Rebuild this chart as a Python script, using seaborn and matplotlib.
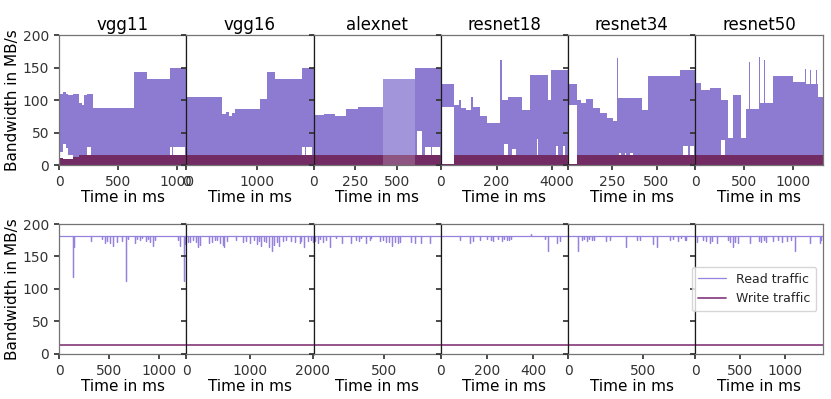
import matplotlib
matplotlib.use('Agg')
import pandas as pd
import seaborn as sns
import matplotlib.pyplot as plt

models = ['vgg11', 'vgg16', 'alexnet', 'resnet18', 'resnet34', 'resnet50']

# ---- top row: read traffic envelope (segment start in ms, upper, lower) and write level
vgg11_t = [0, 10, 30, 55, 80, 120, 165, 195, 215, 240, 270, 290, 630, 745, 935, 955, 962, 1010, 1016, 1060, 1075]
vgg11_hi = [108, 110, 112, 110, 108, 110, 96, 92, 108, 110, 110, 88, 143, 133, 149, 149, 149, 149, 149, 149, 149]
vgg11_lo = [0, 20, 32, 26, 16, 0, 0, 0, 0, 27, 0, 0, 0, 0, 28, 0, 28, 0, 28, 0, 0]
vgg11_wr = [13, 11, 10, 10, 10, 13] + [15] * 15

vgg16_t = [0, 500, 560, 600, 640, 690, 1040, 1140, 1255, 1635, 1680, 1690, 1780, 1800]
vgg16_hi = [105, 78, 81, 76, 80, 87, 102, 143, 133, 150, 150, 150, 150, 150]
vgg16_lo = [0, 0, 0, 0, 0, 0, 0, 0, 0, 27, 0, 27, 0, 0]
vgg16_wr = [15] * 14

alexnet_t = [0, 60, 130, 196, 265, 415, 605, 620, 645, 665, 700, 705, 755, 760]
alexnet_hi = [77, 79, 76, 86, 89, 133, 149, 149, 149, 149, 149, 149, 149, 149]
alexnet_lo = [0, 0, 0, 0, 0, 0, 0, 52, 0, 28, 0, 28, 0, 0]
alexnet_wr = [15] * 14
alexnet_light = [415, 605]

resnet18_t = [0, 47, 66, 71, 90, 110, 116, 140, 164, 212, 220, 227, 242, 254, 270, 290, 320, 345,
              350, 386, 395, 415, 420, 440, 446, 457]
resnet18_hi = [125, 92, 100, 88, 84, 105, 90, 75, 65, 161, 100, 100, 105, 105, 105, 85, 138, 138,
               138, 100, 146, 146, 146, 146, 146, 146]
resnet18_lo = [90, 0, 0, 0, 0, 0, 0, 0, 0, 0, 0, 33, 0, 25, 0, 0, 0, 40,
               0, 0, 0, 30, 0, 30, 0, 0]
resnet18_wr = [2] + [15] * 25

resnet34_t = [0, 49, 75, 100, 143, 180, 220, 256, 275, 282, 290, 300, 320, 330, 350, 365, 420, 453,
              632, 650, 680, 690, 710, 720]
resnet34_hi = [125, 100, 95, 102, 88, 80, 72, 68, 164, 103, 103, 103, 103, 103, 103, 103, 85, 137,
               146, 146, 146, 146, 146, 146]
resnet34_lo = [92, 0, 0, 0, 0, 0, 0, 0, 0, 0, 19, 0, 19, 0, 19, 0, 0, 0,
               0, 30, 0, 30, 0, 0]
resnet34_wr = [2] + [15] * 23

resnet50_t = [0, 62, 150, 268, 302, 340, 388, 473, 525, 555, 563, 600, 607, 655, 665, 710, 718, 800,
              1005, 1130, 1140, 1180, 1188, 1240, 1248, 1262, 1310]
resnet50_hi = [127, 116, 118, 100, 100, 42, 108, 42, 87, 159, 87, 164, 87, 167, 95, 162, 95, 137,
               128, 148, 125, 147, 125, 147, 125, 105, 105]
resnet50_lo = [0, 0, 0, 38, 0, 0, 0, 0, 0, 0, 0, 0, 0, 0, 0, 0, 0, 0,
               0, 0, 0, 0, 0, 0, 0, 0, 0]
resnet50_wr = [15] * 27

# ---- bottom row: read traffic sits at a ceiling with short dips
read_base = 182
write_level = 14
bottom_xmax = [1275, 2010, 900, 550, 845, 1420]

vgg11_dip_t = [143, 150, 316, 426, 460, 483, 509, 543, 583, 636, 669, 693, 759, 783, 809, 836, 869, 892,
               916, 942, 959, 1192, 1209, 1249, 1259]
vgg11_dip_v = [119, 165, 174, 177, 171, 174, 171, 166, 172, 174, 113, 177, 171, 177, 175, 178, 174, 177,
               172, 166, 175, 175, 166, 112, 169]
vgg16_dip_t = [27, 64, 107, 160, 192, 214, 363, 406, 454, 491, 534, 577, 598, 641, 790, 897, 950, 1004,
               1068, 1121, 1148, 1175, 1228, 1255, 1308, 1346, 1388, 1431, 1469, 1522, 1575, 1655,
               1709, 1789, 1816, 1858, 1922, 1976, 2000]
vgg16_dip_v = [172, 173, 176, 173, 164, 167, 171, 173, 176, 176, 171, 167, 164, 174, 176, 172, 174, 171,
               176, 169, 174, 166, 174, 172, 164, 159, 167, 172, 166, 174, 176, 174,
               173, 171, 174, 164, 174, 176, 173]
alexnet_dip_t = [7, 31, 47, 66, 85, 113, 160, 203, 267, 302, 321, 337, 368, 396, 408, 467, 491, 510,
                 533, 557, 573, 597, 614, 691, 715, 762, 821]
alexnet_dip_v = [174, 171, 177, 172, 176, 165, 178, 171, 171, 176, 174, 178, 171, 176, 178, 174, 176, 172,
                 173, 166, 172, 171, 173, 172, 171, 171, 171]
resnet18_dip_t = [82, 126, 137, 169, 198, 215, 227, 248, 263, 273, 284, 296, 302, 390, 451, 465, 504, 513]
resnet18_dip_v = [176, 171, 174, 176, 177, 176, 174, 177, 174, 177, 176, 176, 177, 185, 177, 159, 171, 174]
resnet34_dip_t = [68, 90, 106, 124, 141, 157, 172, 251, 278, 384, 454, 476, 565, 587, 675, 697, 730,
                  752, 774, 785]
resnet34_dip_v = [159, 176, 177, 174, 177, 176, 176, 174, 176, 164, 176, 176, 169, 164, 176, 177, 174,
                  178, 176, 176]
resnet50_dip_t = [19, 85, 123, 167, 190, 242, 364, 390, 420, 439, 476, 613, 710, 736, 762, 792, 866, 922,
                  970, 1022, 1070, 1108, 1282, 1386, 1405]
resnet50_dip_v = [172, 176, 174, 171, 174, 171, 176, 173, 164, 173, 171, 171, 174, 172, 176, 173, 174, 176,
                  173, 174, 176, 159, 171, 171, 176]

top_xticks = [[0, 500, 1000], [0, 1000], [0, 250, 500], [0, 200, 400], [0, 250, 500], [0, 500, 1000]]
bottom_xticks = [[0, 500, 1000], [0, 1000, 2000], [500], [0, 200, 400], [0, 500], [0, 500, 1000]]

top_data = {
    'vgg11': (vgg11_t, vgg11_hi, vgg11_lo, vgg11_wr),
    'vgg16': (vgg16_t, vgg16_hi, vgg16_lo, vgg16_wr),
    'alexnet': (alexnet_t, alexnet_hi, alexnet_lo, alexnet_wr),
    'resnet18': (resnet18_t, resnet18_hi, resnet18_lo, resnet18_wr),
    'resnet34': (resnet34_t, resnet34_hi, resnet34_lo, resnet34_wr),
    'resnet50': (resnet50_t, resnet50_hi, resnet50_lo, resnet50_wr),
}
dips = {
    'vgg11': (vgg11_dip_t, vgg11_dip_v),
    'vgg16': (vgg16_dip_t, vgg16_dip_v),
    'alexnet': (alexnet_dip_t, alexnet_dip_v),
    'resnet18': (resnet18_dip_t, resnet18_dip_v),
    'resnet34': (resnet34_dip_t, resnet34_dip_v),
    'resnet50': (resnet50_dip_t, resnet50_dip_v),
}

read_fill = '#8c7bd0'
write_fill = '#722b63'
read_line = '#9682dd'
write_line = '#8b4783'

sns.set_theme(style='ticks', rc={
    'axes.edgecolor': '0.45',
    'axes.linewidth': 0.9,
    'xtick.color': '0.2',
    'ytick.color': '0.2',
    'xtick.major.size': 3.5,
    'ytick.major.size': 3.5,
    'xtick.labelsize': 10,
    'ytick.labelsize': 10,
})
plt.rcParams['font.family'] = ['DejaVu Sans']

fig, axes = plt.subplots(2, 6, figsize=(8.31, 3.99), dpi=100, sharey=True)
fig.subplots_adjust(left=0.071, right=0.990, top=0.912, bottom=0.113, wspace=0, hspace=0.454)

#top row - dense traffic bands
for i, m in enumerate(models):
    ax = axes[0, i]
    t, hi, lo, wr = top_data[m]
    ax.fill_between(t, lo, hi, step='post', color=read_fill, lw=0)
    ax.fill_between(t, 0, wr, step='post', color=write_fill, lw=0)
    if m == 'alexnet':
        ax.axvspan(alexnet_light[0], alexnet_light[1], color='white', alpha=0.2, lw=0)
    ax.set_xlim(0, t[-1])
    ax.set_xticks(top_xticks[i])
    ax.set_title(m, fontsize=12, color='black', pad=4)
    ax.set_xlabel('Time in ms', fontsize=11, color='black', labelpad=1)

#bottom row - ceiling with dips
for i, m in enumerate(models):
    ax = axes[1, i]
    xmax = bottom_xmax[i]
    dt, dv = dips[m]
    xs = [0]
    ys = [read_base]
    for a, b in zip(dt, dv):
        xs += [a, a, a]
        ys += [read_base, b, read_base]
    xs.append(xmax)
    ys.append(read_base)
    line_df = pd.DataFrame({'time': xs, 'bw': ys})
    last = i == len(models) - 1
    sns.lineplot(data=line_df, x='time', y='bw', ax=ax, estimator=None, sort=False,
                 color=read_line, lw=0.9, label='Read traffic' if last else None, legend=False)
    sns.lineplot(x=[0, xmax], y=[write_level, write_level], ax=ax, estimator=None,
                 color=write_line, lw=1.3, label='Write traffic' if last else None, legend=False)
    ax.set_xlim(0, xmax)
    ax.set_xticks(bottom_xticks[i])
    ax.set_xlabel('Time in ms', fontsize=11, color='black', labelpad=1)
    ax.set_ylabel('')
    if last:
        ax.legend(loc='center right', fontsize=9, frameon=True, borderpad=0.5,
                  handlelength=2.2, labelspacing=0.5)

for r in range(2):
    axes[r, 0].set_ylim(0, 200)
    axes[r, 0].set_yticks([0, 50, 100, 150, 200])
    axes[r, 0].set_ylabel('Bandwidth in MB/s', fontsize=11, color='black', labelpad=2)
    for ax in axes[r, 1:]:
        ax.set_ylabel('')
        ax.tick_params(labelleft=False)
        # panel borders look darker where two frames meet
        ax.spines['left'].set_color('0.1')

plt.savefig('out.png', dpi=100)
